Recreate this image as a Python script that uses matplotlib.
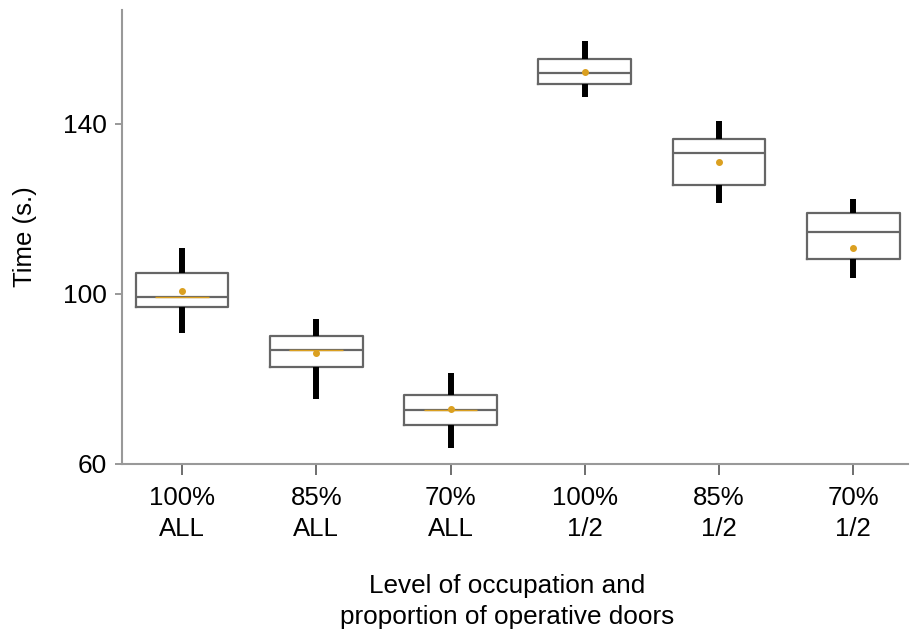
import numpy as np
import matplotlib.pyplot as plt

plt.rcParams['font.family'] = ['Liberation Sans', 'DejaVu Sans']

# box statistics (seconds)
labels = ['100%\nALL', '85%\nALL', '70%\nALL', '100%\n1/2', '85%\n1/2', '70%\n1/2']
whislo = [90.8, 75.3, 63.8, 146.4, 121.3, 103.7]
q1 = [96.9, 82.7, 69.2, 149.3, 125.6, 108.2]
med = [99.3, 86.7, 72.7, 152.1, 133.2, 114.6]
q3 = [104.9, 90.0, 76.1, 155.2, 136.5, 119.0]
whishi = [110.8, 94.1, 81.4, 159.5, 140.8, 122.3]
means = [100.7, 86.1, 72.9, 152.2, 131.1, 110.9]

stats = []
for i in range(len(labels)):
    stats.append(dict(whislo=whislo[i], q1=q1[i], med=med[i], q3=q3[i],
                      whishi=whishi[i], mean=means[i], fliers=[]))

fig = plt.figure(figsize=(9.11, 6.32), dpi=100)
ax = fig.add_axes([0.134, 0.266, 0.863, 0.718])

pos = np.arange(len(labels))
ax.bxp(stats, positions=pos, widths=0.69, showmeans=True, showcaps=False,
       showfliers=False, patch_artist=False,
       boxprops=dict(color='#666666', linewidth=1.6),
       medianprops=dict(color='#666666', linewidth=1.6),
       whiskerprops=dict(color='black', linewidth=4.3, solid_capstyle='butt'),
       meanprops=dict(marker='o', markersize=4, markerfacecolor='#dba020',
                      markeredgecolor='#dba020'))

# faint orange tint on the median of the first three boxes
for i in range(3):
    ax.hlines(med[i], pos[i] - 0.2, pos[i] + 0.2, color='#dba020', lw=1.0, zorder=3)

ax.set_xlim(-0.447, 5.41)
ax.set_ylim(60, 166.8)
ax.set_yticks([60, 100, 140])
ax.set_xticks(pos)
ax.set_xticklabels(labels, fontsize=18.5, linespacing=1.38)
ax.tick_params(axis='y', labelsize=19, length=5, width=1.2, color='#888888', pad=6)
ax.tick_params(axis='x', length=8, width=1.2, color='#555555', pad=8)

for s in ['top', 'right']:
    ax.spines[s].set_visible(False)
for s in ['left', 'bottom']:
    ax.spines[s].set_color('#999999')
    ax.spines[s].set_linewidth(1.5)

ax.set_ylabel('Time (s.)', fontsize=18.5)
ax.yaxis.set_label_coords(-0.108, 0.5)
ax.set_xlabel('Level of occupation and\nproportion of operative doors',
              fontsize=18.8, linespacing=1.36)
ax.xaxis.set_label_coords(0.49, -0.243)

fig.savefig('out.png', dpi=100)
